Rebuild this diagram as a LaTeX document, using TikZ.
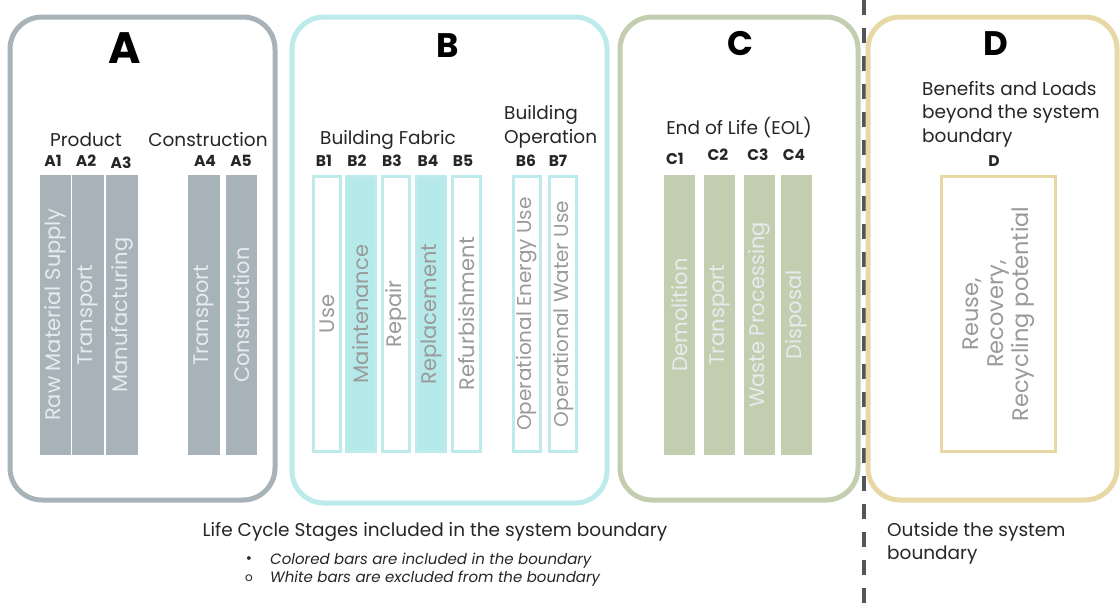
\documentclass[tikz,border=0pt]{standalone}
\usepackage{fontspec}
\setmainfont{Poppins}
\definecolor{agray}{HTML}{A8B3B9}
\definecolor{bcyan}{HTML}{BDEBEC}
\definecolor{bfill}{HTML}{B6EAEA}
\definecolor{csage}{HTML}{C3CEB0}
\definecolor{dtan}{HTML}{E8D8A6}
\definecolor{txtdark}{HTML}{262626}
\definecolor{txtgray}{HTML}{9A9A9A}
\definecolor{txtlight}{HTML}{E6EBED}
\definecolor{dashgray}{HTML}{555555}
\begin{document}
\begin{tikzpicture}[x=1pt,y=-1pt,
  stage/.style={draw, line width=5pt, rounded corners=32pt, inner sep=0pt, fill=white},
  bar/.style={inner sep=0pt, minimum width=31pt, minimum height=280pt},
  obar/.style={inner sep=0pt, draw=bcyan, line width=3pt, minimum width=27pt, minimum height=275pt},
  barlbl/.style={rotate=90, inner sep=0pt, font=\fontsize{21}{21}\selectfont},
  code/.style={font=\bfseries\fontsize{15.5}{15.5}\selectfont, text=txtdark, inner sep=0pt},
  head/.style={font=\fontsize{18.5}{23.5}\selectfont, text=txtdark, inner sep=0pt},
  bigtitle/.style={font=\bfseries\fontsize{34}{34}\selectfont, text=black, inner sep=0pt},
  note/.style={font=\fontsize{18.5}{23}\selectfont, text=txtdark, inner sep=0pt},
  bul/.style={font=\itshape\fontsize{15}{16}\selectfont, text=txtdark, inner sep=0pt}
]
\useasboundingbox[fill=white] (0,0) rectangle (1120,611);

% dashed boundary
\coordinate (dtop) at (864,0);
\coordinate (dbot) at (864,611);
\draw[dashgray, line width=3.5pt, dash pattern=on 15pt off 13pt] (dtop) -- (dbot);

% stage boxes
\node[stage, draw=agray, minimum width=265pt, minimum height=483pt] (boxA) at (142.5,258.5) {};
\node[stage, draw=bcyan, minimum width=315pt, minimum height=486pt] (boxB) at (449.5,260) {};
\node[stage, draw=csage, minimum width=238pt, minimum height=483pt] (boxC) at (739,258.5) {};
\node[stage, draw=dtan, minimum width=249pt, minimum height=483pt] (boxD) at (992.5,258.5) {};

% titles
\node[bigtitle, font=\bfseries\fontsize{44}{44}\selectfont] (tA) at (125,48) {A};
\node[bigtitle] (tB) at (448,46) {B};
\node[bigtitle] (tC) at (740,44) {C};
\node[bigtitle] (tD) at (996,44) {D};

% ---------- A ----------
\node[head] (hProd) at (86,140) {Product};
\node[head] (hCons) at (208,140) {Construction};
\node[code] (cA1) at (53,161) {A1};
\node[code] (cA2) at (86,161) {A2};
\node[code] (cA3) at (121,163) {A3};
\node[code] (cA4) at (205,161) {A4};
\node[code] (cA5) at (241,161) {A5};
\node[bar, fill=agray] (a1) at (55.5,315) {};
\node[bar, fill=agray, minimum width=32pt] (a2) at (88,315) {};
\node[bar, fill=agray, minimum width=32pt] (a3) at (122,315) {};
\node[bar, fill=agray, minimum width=32pt] (a4) at (204,315) {};
\node[bar, fill=agray] (a5) at (241.5,315) {};
\node[barlbl, text=txtlight] (la1) at (a1) {Raw Material Supply};
\node[barlbl, text=txtlight] (la2) at (a2) {Transport};
\node[barlbl, text=txtlight] (la3) at (a3) {Manufacturing};
\node[barlbl, text=txtlight] (la4) at (a4) {Transport};
\node[barlbl, text=txtlight] (la5) at (a5) {Construction};

% ---------- B ----------
\node[head] (hFab) at (388,140) {Building Fabric};
\node[head, align=left, anchor=west] (hOp) at (504,127) {Building\\Operation};
\node[code] (cB1) at (324,161) {B1};
\node[code] (cB2) at (357,161) {B2};
\node[code] (cB3) at (392,161) {B3};
\node[code] (cB4) at (428,161) {B4};
\node[code] (cB5) at (463,161) {B5};
\node[code] (cB6) at (526,161) {B6};
\node[code] (cB7) at (558,161) {B7};
\node[obar, fill=white] (b1) at (327,314) {};
\node[obar, fill=bfill, minimum width=29pt] (b2) at (361,314) {};
\node[obar, fill=white] (b3) at (396,314) {};
\node[obar, fill=bfill, minimum width=29pt] (b4) at (431,314) {};
\node[obar, fill=white, minimum width=28pt] (b5) at (466.5,314) {};
\node[obar, fill=white] (b6) at (527,314) {};
\node[obar, fill=white] (b7) at (563,314) {};
\node[barlbl, text=txtgray] (lb1) at (b1) {Use};
\node[barlbl, text=txtgray] (lb2) at (b2) {Maintenance};
\node[barlbl, text=txtgray] (lb3) at (b3) {Repair};
\node[barlbl, text=txtgray] (lb4) at (b4) {Replacement};
\node[barlbl, text=txtgray] (lb5) at (b5) {Refurbishment};
\node[barlbl, text=txtgray, font=\fontsize{20}{20}\selectfont] (lb6) at (b6) {Operational Energy Use};
\node[barlbl, text=txtgray, font=\fontsize{20}{20}\selectfont] (lb7) at (b7) {Operational Water Use};

% ---------- C ----------
\node[head] (hEol) at (739,128) {End of Life (EOL)};
\node[code] (cC1) at (675,159) {C1};
\node[code] (cC2) at (718,155) {C2};
\node[code] (cC3) at (758,155) {C3};
\node[code] (cC4) at (794,155) {C4};
\node[bar, fill=csage] (c1) at (679.5,315) {};
\node[bar, fill=csage] (c2) at (719.5,315) {};
\node[bar, fill=csage] (c3) at (759.5,315) {};
\node[bar, fill=csage] (c4) at (796.5,315) {};
\node[barlbl, text=txtlight] (lc1) at (c1) {Demolition};
\node[barlbl, text=txtlight] (lc2) at (c2) {Transport};
\node[barlbl, text=txtlight] (lc3) at (c3) {Waste Processing};
\node[barlbl, text=txtlight] (lc4) at (c4) {Disposal};

% ---------- D ----------
\node[head, align=left, anchor=north west] (hBen) at (922,81) {Benefits and Loads\\beyond the system\\boundary};
\node[code] (cD) at (994,161) {D};
\node[inner sep=0pt, draw=dtan, line width=3pt, minimum width=114pt, minimum height=275pt] (d1) at (998.5,314) {};
\node[barlbl, text=txtgray, align=center, font=\fontsize{22.5}{25}\selectfont] (ld1) at (d1) {Reuse,\\Recovery,\\Recycling potential};

% ---------- bottom notes ----------
\node[note] (nInc) at (435,532) {Life Cycle Stages included in the system boundary};
\node[bul, anchor=west] (n1) at (270,561) {Colored bars are included in the boundary};
\node[bul, anchor=west] (n2) at (270,579) {White bars are excluded from the boundary};
\node[bul, font=\fontsize{15}{15}\selectfont] (m1) at (249,560) {•};
\node[bul, font=\upshape\fontsize{12}{12}\selectfont] (m2) at (249,578) {o};
\node[note, align=left, anchor=north west] (nOut) at (887,522) {Outside the system\\boundary};
\end{tikzpicture}
\end{document}
